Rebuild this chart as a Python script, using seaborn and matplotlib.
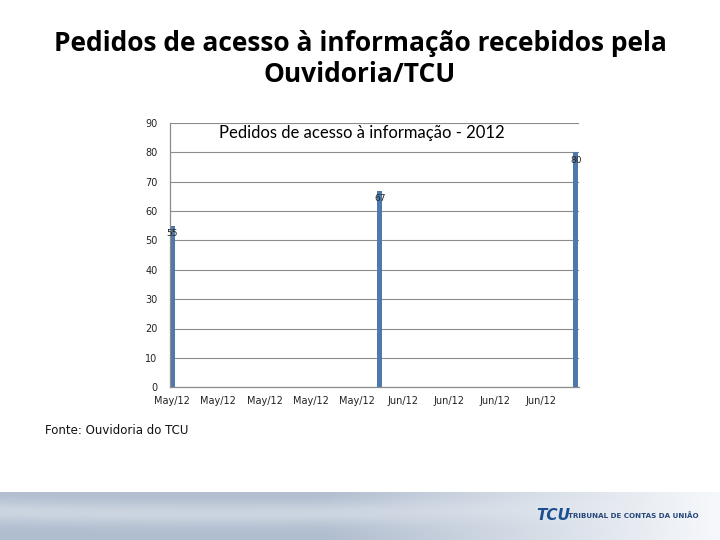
import numpy as np
import pandas as pd
import seaborn as sns
import matplotlib.pyplot as plt
import matplotlib.dates as mdates

# dados do gráfico
datas = ['2012-05-15', '2012-06-02', '2012-06-19']
pedidos = [55, 67, 80]
titulo_slide = 'Pedidos de acesso à informação recebidos pela\nOuvidoria/TCU'
titulo_grafico = 'Pedidos de acesso à informação - 2012'
fonte = 'Fonte: Ouvidoria do TCU'

df = pd.DataFrame({'data': pd.to_datetime(datas), 'pedidos': pedidos})
df['dia'] = mdates.date2num(df['data'])

sns.set_style('white')
plt.rcParams['font.family'] = ['DejaVu Sans']

fig = plt.figure(figsize=(7.2, 5.4), dpi=100)
ax = fig.add_axes([0.236, 0.283, 0.568, 0.489])

bar_color = '#4f79ad'
sns.barplot(data=df, x='dia', y='pedidos', native_scale=True, width=0.45 / 17,
            color=bar_color, saturation=1, ax=ax, errorbar=None, linewidth=0)

# eixo de datas, marcas a cada 4 dias
ticks = mdates.drange(df['data'].iloc[0].to_pydatetime(),
                      df['data'].iloc[-1].to_pydatetime(), pd.Timedelta(days=4))
ax.set_xticks(ticks)
ax.xaxis.set_major_formatter(mdates.DateFormatter('%b/%y'))
ax.set_xlim(df['dia'].iloc[0] - 0.2, df['dia'].iloc[-1] + 0.27)
ax.set_ylim(0, 90)
ax.set_yticks(range(0, 91, 10))
ax.set_xlabel('')
ax.set_ylabel('')
ax.tick_params(axis='both', length=0, labelsize=7, colors='#222222')
ax.tick_params(axis='y', pad=9)
ax.tick_params(axis='x', pad=6)
ax.yaxis.grid(True, color='#8c8c8c', linewidth=0.8)
ax.set_axisbelow(True)
for s in ['top', 'right']:
    ax.spines[s].set_visible(False)
for s in ['left', 'bottom']:
    ax.spines[s].set_color('#8c8c8c')
    ax.spines[s].set_linewidth(0.9)

# rótulos de dados
for d, v in zip(df['dia'], df['pedidos']):
    ax.text(d, v - 1.2, str(v), ha='center', va='top', fontsize=6.5, color='#222222')

ax.text(0.47, 0.962, titulo_grafico, transform=ax.transAxes, ha='center', va='center',
        fontsize=12, color='black', family='Lato')

fig.text(0.5, 0.891, titulo_slide, ha='center', va='center', fontsize=19,
         fontweight='bold', family='Open Sans', linespacing=1.2, color='black')
fig.text(0.062, 0.202, fonte, ha='left', va='center', fontsize=8.5, color='#111111')

# faixa do rodapé
fax = fig.add_axes([0, 0, 1, 48 / 540])
xx, yy = np.meshgrid(np.linspace(0, 1, 400), np.linspace(0, 1, 50))
t = np.clip((xx - 0.45) / 0.55, 0, 1)
swoosh = np.exp(-((yy - 0.55 - 0.5 * (xx - 0.3) ** 2) / 0.25) ** 2) * (1 - t) * 0.35
base_l = np.array([176, 189, 207]) / 255
base_r = np.array([246, 248, 251]) / 255
img = base_l[None, None, :] * (1 - t[..., None]) + base_r[None, None, :] * t[..., None]
img = img + (1 - img) * swoosh[..., None]
fax.imshow(img, aspect='auto', extent=[0, 1, 0, 1], origin='lower')
fax.set_xlim(0, 1)
fax.set_ylim(0, 1)
fax.axis('off')
fax.text(0.745, 0.52, 'TCU', ha='left', va='center', fontsize=11, fontweight='bold',
         style='italic', color='#1d4e8f')
fax.text(0.789, 0.52, 'TRIBUNAL DE CONTAS DA UNIÃO', ha='left', va='center',
         fontsize=5.1, fontweight='bold', color='#27477a')

fig.savefig('out.png', dpi=100, facecolor='white')
